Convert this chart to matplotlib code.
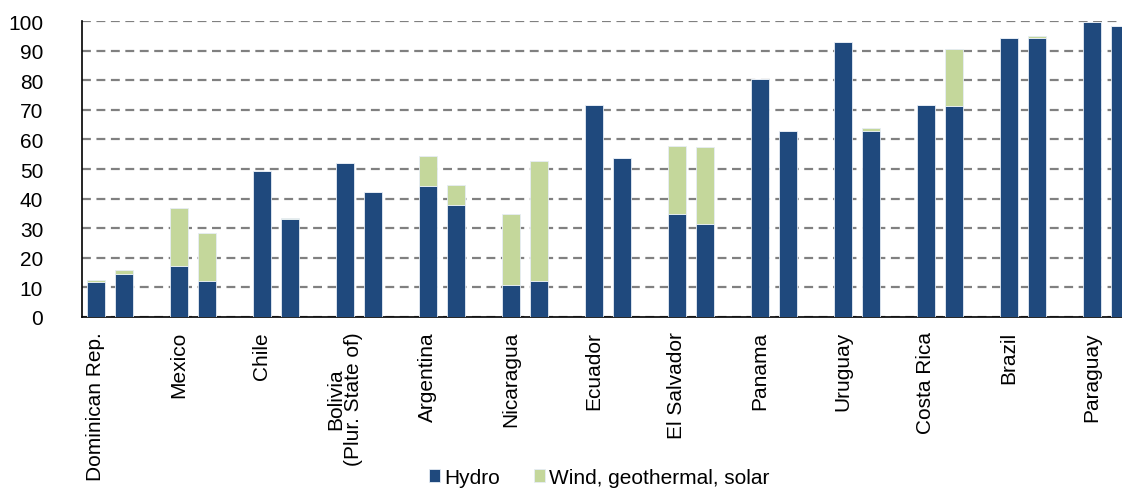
import matplotlib.pyplot as plt
import numpy as np

plt.rcParams['font.family'] = ['Liberation Sans', 'DejaVu Sans']

countries = ['Dominican Rep.', 'Mexico', 'Chile', 'Bolivia\n(Plur. State of)', 'Argentina',
             'Nicaragua', 'Ecuador', 'El Salvador', 'Panama', 'Uruguay', 'Costa Rica',
             'Brazil', 'Paraguay']

# two bars per country (earlier / later year)
hydro_a = [11.8, 17.1, 49.2, 51.9, 44.4, 10.8, 71.7, 34.7, 80.4, 93.0, 71.7, 94.3, 99.5]
other_a = [0.6, 19.7, 0.0, 0.0, 10.1, 24.1, 0.0, 23.2, 0.0, 0.0, 0.0, 0.0, 0.0]
hydro_b = [14.4, 12.0, 33.0, 42.1, 37.7, 12.3, 53.6, 31.4, 62.9, 62.7, 71.3, 94.3, 98.2]
other_b = [1.6, 16.5, 0.5, 0.0, 7.0, 40.4, 0.0, 26.1, 0.0, 1.2, 19.1, 0.6, 0.0]

hydro_col = '#1f497d'
other_col = '#c4d79b'
fs = 15

fig = plt.figure(figsize=(11.22, 4.89), dpi=100)
ax = fig.add_axes([0.0731, 0.3497, 0.9269, 0.6053])

x = np.arange(len(countries)) * 3
w = 0.65
edge = dict(edgecolor='#e6edf5', linewidth=0.6)

ax.bar(x, hydro_a, w, color=hydro_col, label='Hydro', zorder=3, **edge)
ax.bar(x, other_a, w, bottom=hydro_a, color=other_col, label='Wind, geothermal, solar', zorder=3, **edge)
ax.bar(x + 1, hydro_b, w, color=hydro_col, zorder=3, **edge)
ax.bar(x + 1, other_b, w, bottom=hydro_b, color=other_col, zorder=3, **edge)

ax.set_ylim(0, 100)
ax.set_xlim(-0.5, 37.09)
ax.set_yticks(range(0, 101, 10))
ax.yaxis.grid(True, color='#808080', linestyle=(0, (4, 2.5)), linewidth=1.6, zorder=0)
ax.set_xticks(x)
ax.set_xticklabels(countries, rotation=90, va='top', ha='center', linespacing=0.95)
ax.tick_params(axis='both', length=0, labelsize=fs)
ax.tick_params(axis='y', pad=28)
ax.tick_params(axis='x', pad=10)

for s in ['top', 'right']:
    ax.spines[s].set_visible(False)
ax.spines['left'].set_linewidth(1.2)
ax.spines['bottom'].set_linewidth(1.2)

fig.legend(loc='center', bbox_to_anchor=(0.534, 0.022), ncol=2, frameon=False,
           fontsize=fs, handlelength=0.55, handleheight=0.55, handletextpad=0.2,
           columnspacing=1.6)

fig.savefig('out.png', dpi=100)
